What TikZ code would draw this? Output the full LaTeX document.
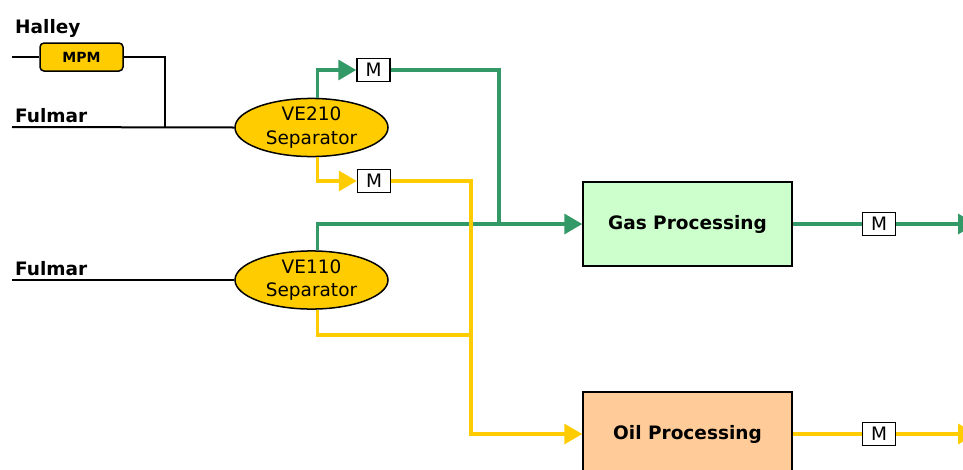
\documentclass[tikz,border=0pt]{standalone}
\usepackage{fontspec}
\setmainfont{DejaVu Sans}
\usepackage{xcolor}
\usetikzlibrary{shapes.geometric, arrows.meta, positioning, calc}
\definecolor{gasgreen}{RGB}{51, 153, 102}
\definecolor{oilyellow}{RGB}{255, 204, 0}
\definecolor{gasfill}{RGB}{204, 255, 204}
\definecolor{oilfill}{RGB}{255, 204, 153}
\tikzset{
  font=\fontsize{18.5}{23.5}\selectfont,
  sepblock/.style={
    ellipse, draw=black, fill=oilyellow, line width=1.5pt,
    minimum width=153pt, minimum height=53pt, inner sep=0pt, align=center
  },
  procblock/.style={
    rectangle, draw=black, line width=1.5pt,
    minimum width=209pt, minimum height=84pt,
    font=\fontsize{18.5}{23.5}\selectfont\bfseries
  },
  meterblock/.style={
    rectangle, draw=black, fill=white, line width=1.5pt,
    minimum width=33pt, minimum height=23pt, inner sep=0pt
  },
  mpmblock/.style={
    rectangle, rounded corners=4pt, draw=black, fill=oilyellow, line width=1.5pt,
    minimum width=83pt, minimum height=28pt, inner sep=0pt,
    font=\fontsize{14}{16}\selectfont\bfseries
  },
  srclabel/.style={
    anchor=base west, inner sep=0pt, font=\fontsize{18.5}{23.5}\selectfont\bfseries
  },
  feedline/.style={draw=black, line width=2pt},
  gasline/.style={draw=gasgreen, line width=3.5pt},
  oilline/.style={draw=oilyellow, line width=3.5pt},
  gasflow/.style={gasline, -{Triangle[length=18pt, width=20pt]}},
  oilflow/.style={oilline, -{Triangle[length=18pt, width=20pt]}}
}

\begin{document}
\begin{tikzpicture}[x=1pt, y=-1pt]

  \useasboundingbox (0,0) rectangle (963,469);

  % Feeds
  \coordinate (halleyin) at (12,57);
  \coordinate (fulmarin) at (12,127);
  \coordinate (fulmarin2) at (12,280);
  \coordinate (feedjoin) at (165,127);
  \node[srclabel] (halley) at (15,33) {Halley};
  \node[srclabel] (fulmar) at (15,122) {Fulmar};
  \node[srclabel] (fulmar2) at (15,275) {Fulmar};
  \node[mpmblock] (mpm) at (81.5,57) {MPM};

  % Separators
  \node[sepblock] (ve210) at (311.5,127.5) {VE210\\Separator};
  \node[sepblock] (ve110) at (311.5,280) {VE110\\Separator};

  % Meters
  \node[meterblock] (m1) at (373.5,70) {M};
  \node[meterblock] (m2) at (374,181) {M};

  % Processing
  \node[procblock, fill=gasfill] (gas) at (687.5,224) {Gas Processing};
  \node[procblock, fill=oilfill] (oil) at (687.5,434) {Oil Processing};
  \node[meterblock] (m3) at (879,224) {M};
  \node[meterblock] (m4) at (879,434) {M};

  \coordinate (gjoin) at (499,224);
  \coordinate (ojoin) at (471,335);
  \coordinate (obend) at (471,434);
  \coordinate (gasout) at (976,224);
  \coordinate (oilout) at (976,434);

  \draw[feedline] (halleyin) -- (mpm.west);
  \draw[feedline] (mpm.east) -| (feedjoin);
  \draw[feedline] (fulmarin) -- (ve210.west);
  \draw[feedline] (fulmarin2) -- (ve110.west);

  \draw[gasflow] ([xshift=6pt]ve210.north) |- (m1.west);
  \draw[gasline] (m1.east) -| (gjoin);
  \draw[gasflow] ([xshift=6pt]ve110.north) |- (gas.west);
  \draw[gasline] (gas.east) -- (m3.west);
  \draw[gasflow] (m3.east) -- (gasout);

  \draw[oilflow] ([xshift=6pt]ve210.south) |- (m2.west);
  \draw[oilflow] (m2.east) -| (obend) -- (oil.west);
  \draw[oilline] ([xshift=6pt]ve110.south) |- (ojoin);
  \draw[oilline] (oil.east) -- (m4.west);
  \draw[oilflow] (m4.east) -- (oilout);

\end{tikzpicture}
\end{document}
